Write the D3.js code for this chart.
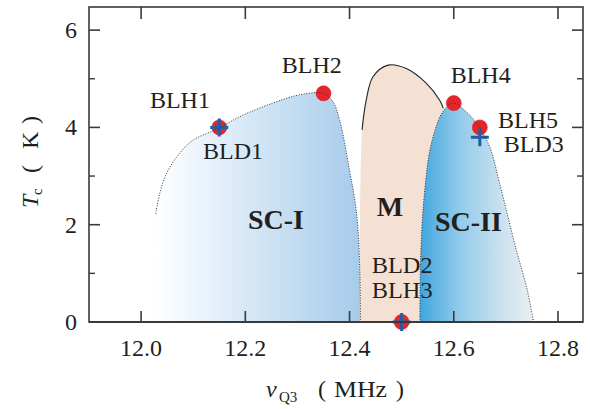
<!DOCTYPE html>
<html><head><meta charset="utf-8">
<script src="https://cdn.jsdelivr.net/npm/d3@7"></script>
<style>html,body{margin:0;padding:0;background:#fff;}svg{display:block;}</style>
</head><body>
<svg id="c" width="590" height="409"></svg>
<script>
// ---- data ----
const scI_nu = [12.028,12.036,12.049,12.074,12.100,12.149,12.189,12.253,12.304,12.349,12.368,12.381,12.400,12.410,12.416,12.420,12.421];
const scI_tc = [2.22,2.65,3.06,3.47,3.74,3.98,4.22,4.50,4.67,4.70,4.53,4.15,3.12,2.51,1.96,0.93,0.0];
const m_nu = [12.420,12.424,12.432,12.445,12.474,12.509,12.547,12.573,12.580];
const m_tc = [0.0,3.95,4.56,5.04,5.28,5.21,4.91,4.56,4.39];
const mLine_from = 1; // solid outline starts at the 2nd point
const scII_nu = [12.535,12.536,12.540,12.547,12.553,12.566,12.579,12.598,12.624,12.649,12.669,12.688,12.720,12.741,12.753];
const scII_tc = [0.0,1.14,2.16,2.99,3.47,4.01,4.32,4.50,4.32,4.00,3.60,2.85,1.48,0.66,0.0];
const blh_names = ["BLH1","BLH2","BLH3","BLH4","BLH5"];
const blh_nu = [12.15,12.35,12.50,12.60,12.65];
const blh_tc = [4.00,4.70,0.00,4.50,4.00];
const bld_names = ["BLD1","BLD2","BLD3"];
const bld_nu = [12.15,12.50,12.65];
const bld_tc = [4.00,0.00,3.80];
const xTicks = [12.0,12.2,12.4,12.6,12.8];
const yTicks = [0,2,4,6];
const yMinor = [1,3,5];
const phaseNames = ["SC-I","M","SC-II"];

const svg = d3.select("#c");
const W=590,H=409, L=89, R=583, T=7, B=322;
const x = d3.scaleLinear().domain([11.9,12.848]).range([L,R]);
const y = d3.scaleLinear().domain([0,6.475]).range([B,T]);
const FONT = "'Liberation Serif','Times New Roman',serif";
const ink = "#231f20";

const defs = svg.append("defs");
function grad(id, x1, x2, stops){
  const g = defs.append("linearGradient").attr("id",id).attr("gradientUnits","userSpaceOnUse")
    .attr("x1",x1).attr("x2",x2).attr("y1",0).attr("y2",0);
  stops.forEach(s=>g.append("stop").attr("offset",s[0]).attr("stop-color",s[1]));
}
grad("gI", x(12.028), x(12.421), [[0,"#ffffff"],[0.45,"#d6e8f6"],[1,"#a6cbea"]]);
grad("gII", x(12.535), x(12.753), [[0,"#41a5df"],[0.35,"#92cbea"],[0.75,"#cfe3ef"],[1,"#eaeff3"]]);

const pts = (a,b)=>a.map((v,i)=>[x(v),y(b[i])]);
const curve = d3.line().curve(d3.curveCatmullRom.alpha(0.5));

// SC-I fill
const sI = pts(scI_nu,scI_tc);
svg.append("path").attr("d", "M"+x(scI_nu[0])+","+y(0)+"L"+curve(sI).slice(1)+"Z")
  .attr("fill","url(#gI)");
// M fill (extends under SC-II)
const mP = pts(m_nu,m_tc);
const mFill = mP.concat([[x(12.575),y(3.6)],[x(12.55),y(2.0)],[x(12.54),y(0)]]);
svg.append("path").attr("d", d3.line()(mFill)+"Z").attr("fill","#f4e1d3");
svg.append("path").attr("d", curve(mFill)+"Z").attr("fill","#f4e1d3");
// SC-II fill
const sII = pts(scII_nu,scII_tc);
svg.append("path").attr("d", curve(sII)+"Z").attr("fill","url(#gII)");

// M solid outline
svg.append("path").attr("d", curve(mP.slice(mLine_from))).attr("fill","none")
  .attr("stroke","#222").attr("stroke-width",1.1);

// markers
const gm = svg.append("g");
blh_nu.forEach((v,i)=>{
  gm.append("circle").attr("cx",x(v)).attr("cy",y(blh_tc[i])).attr("r",7.5)
    .attr("fill","#e4262b").attr("stroke","#d41f24").attr("stroke-width",0.6);
});
bld_nu.forEach((v,i)=>{
  const cx=x(v), cy=y(bld_tc[i]), h=9;
  gm.append("path").attr("d",`M${cx-h},${cy}H${cx+h}M${cx},${cy-h}V${cy+h}`)
    .attr("stroke","#1f5ea8").attr("stroke-width",3).attr("fill","none");
});

// dotted boundaries
const dot = {stroke:"#333", "stroke-width":1, "stroke-dasharray":"1,1.6", fill:"none"};
function applyAttrs(sel,o){Object.entries(o).forEach(([k,v])=>sel.attr(k,v));return sel;}
applyAttrs(svg.append("path").attr("d",curve(sI)),dot);
applyAttrs(svg.append("path").attr("d",curve(sII)),dot);

// frame
const frame = svg.append("g").attr("stroke","#3a3a3a").attr("fill","none");
frame.append("rect").attr("x",L).attr("y",T).attr("width",R-L).attr("height",B-T).attr("stroke-width",1.6);
frame.append("line").attr("x1",L).attr("x2",R).attr("y1",B).attr("y2",B).attr("stroke-width",2);
xTicks.forEach(t=>{
  frame.append("line").attr("x1",x(t)).attr("x2",x(t)).attr("y1",B).attr("y2",B-11).attr("stroke-width",1.6);
  frame.append("line").attr("x1",x(t)).attr("x2",x(t)).attr("y1",T).attr("y2",T+12).attr("stroke-width",1.6);
});
yTicks.forEach(t=>{
  frame.append("line").attr("x1",L).attr("x2",L+11).attr("y1",y(t)).attr("y2",y(t)).attr("stroke-width",1.6);
  frame.append("line").attr("x1",R).attr("x2",R-11).attr("y1",y(t)).attr("y2",y(t)).attr("stroke-width",1.6);
});
yMinor.forEach(t=>{
  frame.append("line").attr("x1",L).attr("x2",L+6).attr("y1",y(t)).attr("y2",y(t)).attr("stroke-width",1.4);
  frame.append("line").attr("x1",R).attr("x2",R-6).attr("y1",y(t)).attr("y2",y(t)).attr("stroke-width",1.4);
});

// tick labels
const tl = svg.append("g").attr("font-family",FONT).attr("font-size",24).attr("fill",ink);
xTicks.forEach(t=>tl.append("text").attr("x",x(t)).attr("y",356).attr("text-anchor","middle").text(d3.format(".1f")(t)));
yTicks.forEach(t=>tl.append("text").attr("x",77).attr("y",y(t)+8).attr("text-anchor","end").text(t));

// axis titles
const xt = svg.append("g").attr("font-family",FONT).attr("font-size",24).attr("fill",ink);
xt.append("text").attr("x",266).attr("y",397).attr("font-style","italic").text("ν");
xt.append("text").attr("x",279).attr("y",402).attr("font-size",15).text("Q3");
xt.append("text").attr("x",318).attr("y",397).text("(");
xt.append("text").attr("x",334).attr("y",397).attr("textLength",53).attr("lengthAdjust","spacingAndGlyphs").text("MHz");
xt.append("text").attr("x",396).attr("y",397).text(")");

const yt = svg.append("g").attr("font-family",FONT).attr("font-size",24).attr("fill",ink)
  .attr("transform","translate(38,0) rotate(-90)");
yt.append("text").attr("x",-208).attr("y",0).attr("font-style","italic").text("T");
yt.append("text").attr("x",-195).attr("y",4).attr("font-size",15).text("c");
yt.append("text").attr("x",-173).attr("y",0).text("(");
yt.append("text").attr("x",-149).attr("y",0).text("K");
yt.append("text").attr("x",-124).attr("y",0).text(")");

// point labels
const lab = svg.append("g").attr("font-family",FONT).attr("font-size",24).attr("fill",ink);
const labelPos = {BLH1:[12.017,4.405],BLH2:[12.270,5.112],BLD1:[12.119,3.344],BLH4:[12.594,4.906],
  BLH5:[12.685,3.981],BLD3:[12.696,3.50],BLD2:[12.4425,1.01],BLH3:[12.4425,0.50]};
blh_names.concat(bld_names).forEach(n=>{
  const p = labelPos[n];
  const t = lab.append("text").attr("x",x(p[0])).attr("y",y(p[1])).text(n);
  if (n==="BLD2"||n==="BLH3") t.attr("font-size",22.5).attr("textLength",61).attr("lengthAdjust","spacingAndGlyphs");
});
// phase labels
const phasePos = [[12.205,1.905],[12.452,2.179],[12.564,1.877]];
const ph = svg.append("g").attr("font-family",FONT).attr("font-size",28).attr("font-weight","bold").attr("fill",ink);
phaseNames.forEach((n,i)=>ph.append("text").attr("x",x(phasePos[i][0])).attr("y",y(phasePos[i][1])).text(n));
</script>
</body></html>
